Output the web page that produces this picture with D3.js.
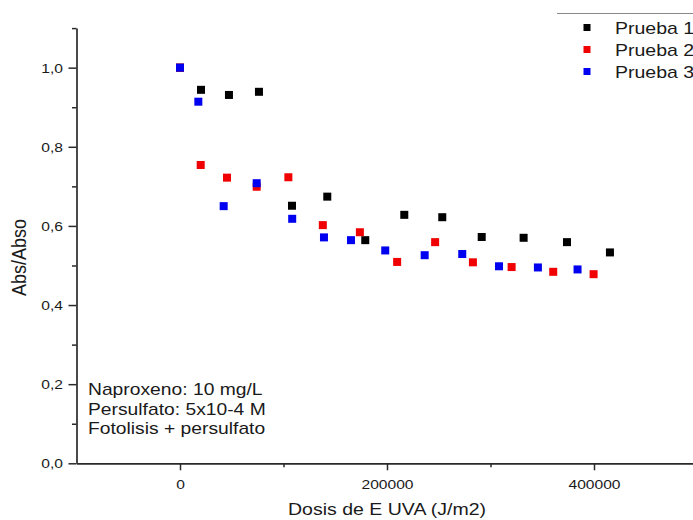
<!DOCTYPE html>
<html>
<head>
<meta charset="utf-8">
<script src="https://cdn.jsdelivr.net/npm/d3@7"></script>
<style>
  html, body { margin: 0; padding: 0; background: #fff; }
  svg { display: block; font-family: "Liberation Sans", Arial, sans-serif; }
</style>
</head>
<body>
<svg id="chart" width="693" height="520"></svg>
<script>
// ---- data ----
const seriesNames = ["Prueba 1", "Prueba 2", "Prueba 3"];
const dose1 = [0, 20300, 47300, 76300, 108200, 142300, 179000, 216700, 253400, 291500, 332000, 373900, 415400];
const abs1  = [1.0, 0.944, 0.931, 0.939, 0.651, 0.674, 0.564, 0.628, 0.622, 0.572, 0.570, 0.559, 0.533];
const dose2 = [0, 20000, 45400, 74100, 104700, 138000, 173800, 209800, 246500, 283000, 320400, 360600, 399600];
const abs2  = [1.0, 0.754, 0.722, 0.699, 0.723, 0.602, 0.584, 0.509, 0.559, 0.508, 0.496, 0.484, 0.478];
const dose3 = [0, 17700, 42200, 74100, 108400, 139100, 165200, 198300, 236400, 272700, 308200, 345800, 384100];
const abs3  = [1.0, 0.914, 0.650, 0.708, 0.618, 0.571, 0.564, 0.538, 0.526, 0.529, 0.498, 0.495, 0.490];
const xMajorTicks = [0, 200000, 400000];
const xMinorTicks = [100000, 300000, 500000];
const yMajorTicks = [0, 0.2, 0.4, 0.6, 0.8, 1.0];
const yMinorTicks = [0.1, 0.3, 0.5, 0.7, 0.9, 1.1];
const annotation = ["Naproxeno: 10 mg/L", "Persulfato: 5x10-4 M", "Fotolisis + persulfato"];
const xTitle = "Dosis de E UVA (J/m2)";
const yTitle = "Abs/Abso";

const colors = ["#000000", "#f00000", "#0000f0"];
const SX = 1.22; // horizontal stretch of the original graphic's text

const svg = d3.select("#chart");
const x = d3.scaleLinear().domain([-100000, 500000]).range([76.5, 697.5]);
const y = d3.scaleLinear().domain([0, 1.1]).range([463.3, 28.1]);

const fmtY = v => d3.format(".1f")(v).replace(".", ",");

function stretchText(sel) {
  sel.each(function() {
    const t = d3.select(this);
    const tx = +t.attr("x") || 0, ty = +t.attr("y") || 0;
    t.attr("transform", `translate(${tx},${ty}) scale(${SX},1)`).attr("x", 0).attr("y", 0);
  });
}

// ---- axes ----
const axisColor = "#2a2a2a";
const gx = svg.append("g").attr("transform", `translate(0,${y(0)})`);
gx.call(d3.axisBottom(x).tickValues(xMinorTicks).tickSize(4).tickSizeOuter(0).tickFormat(""));
const gxM = svg.append("g").attr("transform", `translate(0,${y(0)})`);
gxM.call(d3.axisBottom(x).tickValues(xMajorTicks).tickSize(7).tickSizeOuter(0).tickFormat(d3.format("d")));
gxM.select(".domain").remove();
gxM.selectAll("text").attr("y", 25.5).attr("dy", null)
  .attr("font-size", 12.8).attr("fill", "#1a1a1a").attr("font-family", null).call(stretchText);

const gy = svg.append("g").attr("transform", `translate(${x(-100000)},0)`);
gy.call(d3.axisLeft(y).tickValues(yMinorTicks).tickSize(4.5).tickSizeOuter(0).tickFormat(""));
const gyM = svg.append("g").attr("transform", `translate(${x(-100000)},0)`);
gyM.call(d3.axisLeft(y).tickValues(yMajorTicks).tickSize(8).tickSizeOuter(0).tickFormat(fmtY));
gyM.select(".domain").remove();
gyM.selectAll("text").attr("x", -13.5).attr("dy", null).attr("y", 4.6)
  .attr("font-size", 12.8).attr("fill", "#1a1a1a").attr("font-family", null).call(stretchText);

svg.selectAll(".domain").attr("stroke", axisColor).attr("stroke-width", 1.7);
svg.selectAll(".tick line").attr("stroke", axisColor).attr("stroke-width", 1.5);

// ---- axis titles ----
svg.append("text").attr("transform", `translate(${x(200000)},515) scale(${SX},1)`)
  .attr("text-anchor", "middle").attr("font-size", 16).attr("fill", "#1a1a1a").text(xTitle);
svg.append("text").attr("transform", `translate(26,257.5) rotate(-90) scale(1,1.1)`)
  .attr("text-anchor", "middle").attr("font-size", 18).attr("fill", "#1a1a1a").text(yTitle);

// ---- points ----
const series = [
  { name: seriesNames[0], xs: dose1, ys: abs1, color: colors[0] },
  { name: seriesNames[1], xs: dose2, ys: abs2, color: colors[1] },
  { name: seriesNames[2], xs: dose3, ys: abs3, color: colors[2] }
];
const S = 8;
series.forEach(s => {
  svg.append("g").selectAll("rect").data(s.xs.map((d, i) => [d, s.ys[i]])).join("rect")
    .attr("x", d => x(d[0]) - S / 2).attr("y", d => y(d[1]) - S / 2)
    .attr("width", S).attr("height", S).attr("fill", s.color);
});

// ---- annotation ----
annotation.forEach((line, i) => {
  svg.append("text").attr("transform", `translate(88,${395 + i * 19.5}) scale(${SX},1)`)
    .attr("font-size", 15.8).attr("fill", "#1a1a1a").text(line);
});

// ---- legend ----
svg.append("line").attr("x1", 557).attr("x2", 693).attr("y1", 13.5).attr("y2", 13.5)
  .attr("stroke", "#888").attr("stroke-width", 1);
series.forEach((s, i) => {
  const cy = 27.5 + i * 22;
  svg.append("rect").attr("x", 583.5).attr("y", cy - 3.5).attr("width", 7).attr("height", 7).attr("fill", s.color);
  svg.append("text").attr("transform", `translate(615,${cy + 6}) scale(${SX},1)`)
    .attr("font-size", 16).attr("fill", "#1a1a1a").text(s.name);
});
</script>
</body>
</html>
